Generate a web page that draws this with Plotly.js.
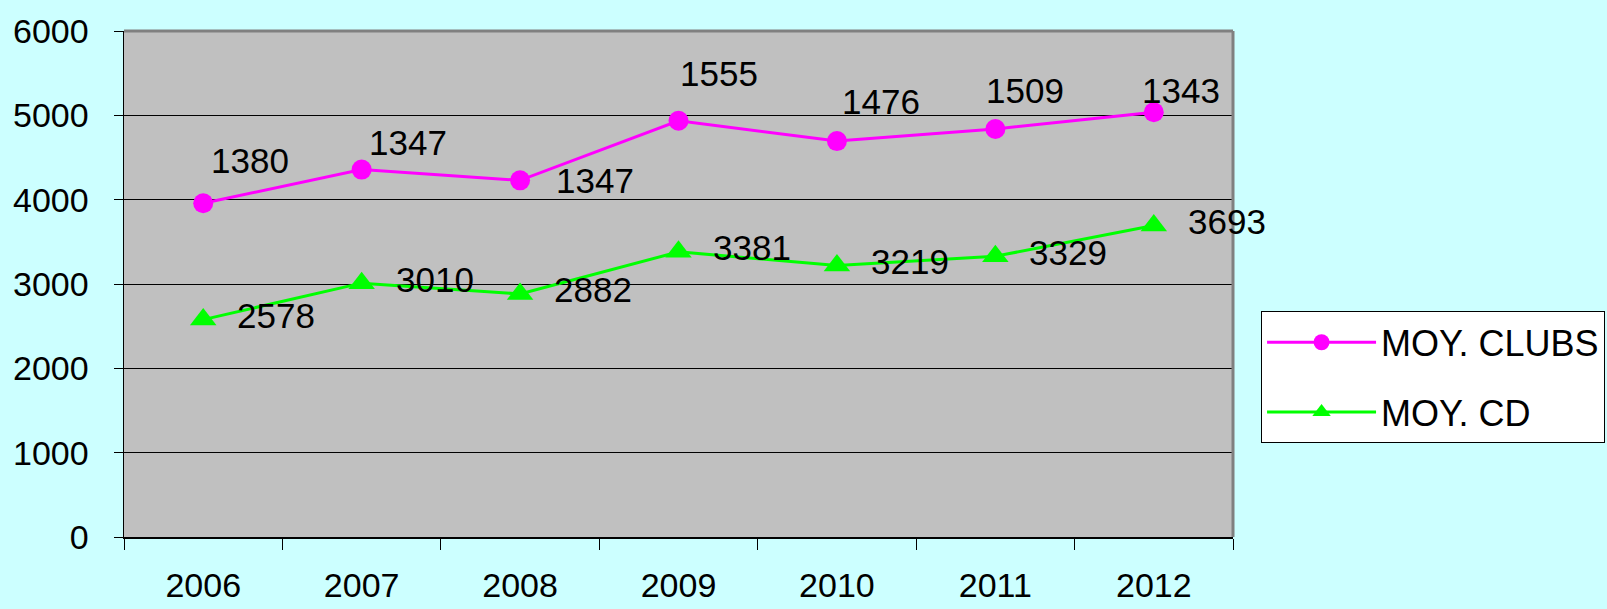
<!DOCTYPE html>
<html>
<head>
<meta charset="utf-8">
<script src="https://cdn.plot.ly/plotly-3.0.1.min.js"></script>
<style>
  html, body { margin: 0; padding: 0; background: #CCFFFF; }
  #chart { width: 1607px; height: 609px; }
</style>
</head>
<body>
<div id="chart"></div>
<script>
// ---- data ----
var years = ['2006', '2007', '2008', '2009', '2010', '2011', '2012'];
var moyCD = [2578, 3010, 2882, 3381, 3219, 3329, 3693];
var moyClubs = [1380, 1347, 1347, 1555, 1476, 1509, 1343];
var seriesNames = ['MOY. CLUBS', 'MOY. CD'];

// ---- label offsets (styling only, pixels) ----
var clubsShift = [[47, 43], [46, 27], [75, 0], [40, 47], [44, 40], [30, 39], [27, 22]];
var cdShift = [73, 4];

var FONT = 'Liberation Sans, Arial, sans-serif';

// stacked top of the CLUBS line (stacked line chart)
var clubsTop = moyCD.map(function (v, i) { return v + moyClubs[i]; });

var traceCD = {
  x: years, y: moyCD, name: seriesNames[1], type: 'scatter', mode: 'lines+markers',
  stackgroup: 'stack', fill: 'none', legendgroup: 'cd', legendrank: 2,
  line: { color: '#00FF00', width: 3 },
  marker: { symbol: 'triangle-up', size: 23, color: '#00FF00' },
  hoverinfo: 'skip'
};
var traceClubs = {
  x: years, y: moyClubs, name: seriesNames[0], type: 'scatter', mode: 'lines+markers',
  stackgroup: 'stack', fill: 'none', legendgroup: 'clubs', legendrank: 1,
  line: { color: '#FF00FF', width: 3 },
  marker: { symbol: 'circle', size: 20, color: '#FF00FF' },
  hoverinfo: 'skip'
};

var annotations = [];
years.forEach(function (yr, i) {
  annotations.push({
    x: i, y: clubsTop[i], xref: 'x', yref: 'y', text: String(moyClubs[i]),
    showarrow: false, xanchor: 'center', yanchor: 'middle',
    xshift: clubsShift[i][0], yshift: clubsShift[i][1],
    font: { family: FONT, size: 35, color: '#000' }
  });
  annotations.push({
    x: i, y: moyCD[i], xref: 'x', yref: 'y', text: String(moyCD[i]),
    showarrow: false, xanchor: 'center', yanchor: 'middle',
    xshift: cdShift[0], yshift: cdShift[1],
    font: { family: FONT, size: 35, color: '#000' }
  });
});

var layout = {
  width: 1607, height: 609,
  margin: { l: 124, r: 374, t: 31, b: 72, pad: 0, autoexpand: false },
  paper_bgcolor: '#CCFFFF',
  plot_bgcolor: '#C0C0C0',
  font: { family: FONT, size: 34, color: '#000' },
  showlegend: true,
  legend: {
    x: 1.0253, xanchor: 'left', y: 0.446, yanchor: 'top',
    bgcolor: '#FFFFFF', bordercolor: '#000000', borderwidth: 1,
    font: { family: FONT, size: 36, color: '#000' },
    traceorder: 'grouped', tracegroupgap: 20,
    itemwidth: 109, itemsizing: 'trace', entrywidth: 360
  },
  shapes: [
    { type: 'line', xref: 'paper', yref: 'paper', x0: 0, x1: 1, y0: 1, y1: 1,
      line: { color: '#808080', width: 3 } },
    { type: 'line', xref: 'paper', yref: 'paper', x0: 1, x1: 1, y0: 0, y1: 1,
      line: { color: '#808080', width: 3 } }
  ],
  xaxis: {
    type: 'category', range: [-0.5, 6.5],
    showgrid: false, zeroline: false,
    showline: true, linecolor: '#000000', linewidth: 1.5,
    ticks: 'outside', tickson: 'boundaries', ticklen: 11, tickcolor: '#000', tickwidth: 1,
    ticklabelstandoff: 18,
    tickfont: { family: FONT, size: 34, color: '#000' }
  },
  yaxis: {
    range: [0, 6000], dtick: 1000, tick0: 0,
    showgrid: true, gridcolor: '#000000', gridwidth: 1, zeroline: false,
    showline: true, linecolor: '#000000', linewidth: 1.5,
    ticks: 'outside', ticklen: 9, tickcolor: '#000', tickwidth: 1,
    ticklabelstandoff: 18,
    tickfont: { family: FONT, size: 34, color: '#000' }
  },
  annotations: annotations
};

Plotly.newPlot('chart', [traceCD, traceClubs], layout, { staticPlot: true, displayModeBar: false });
</script>
</body>
</html>
